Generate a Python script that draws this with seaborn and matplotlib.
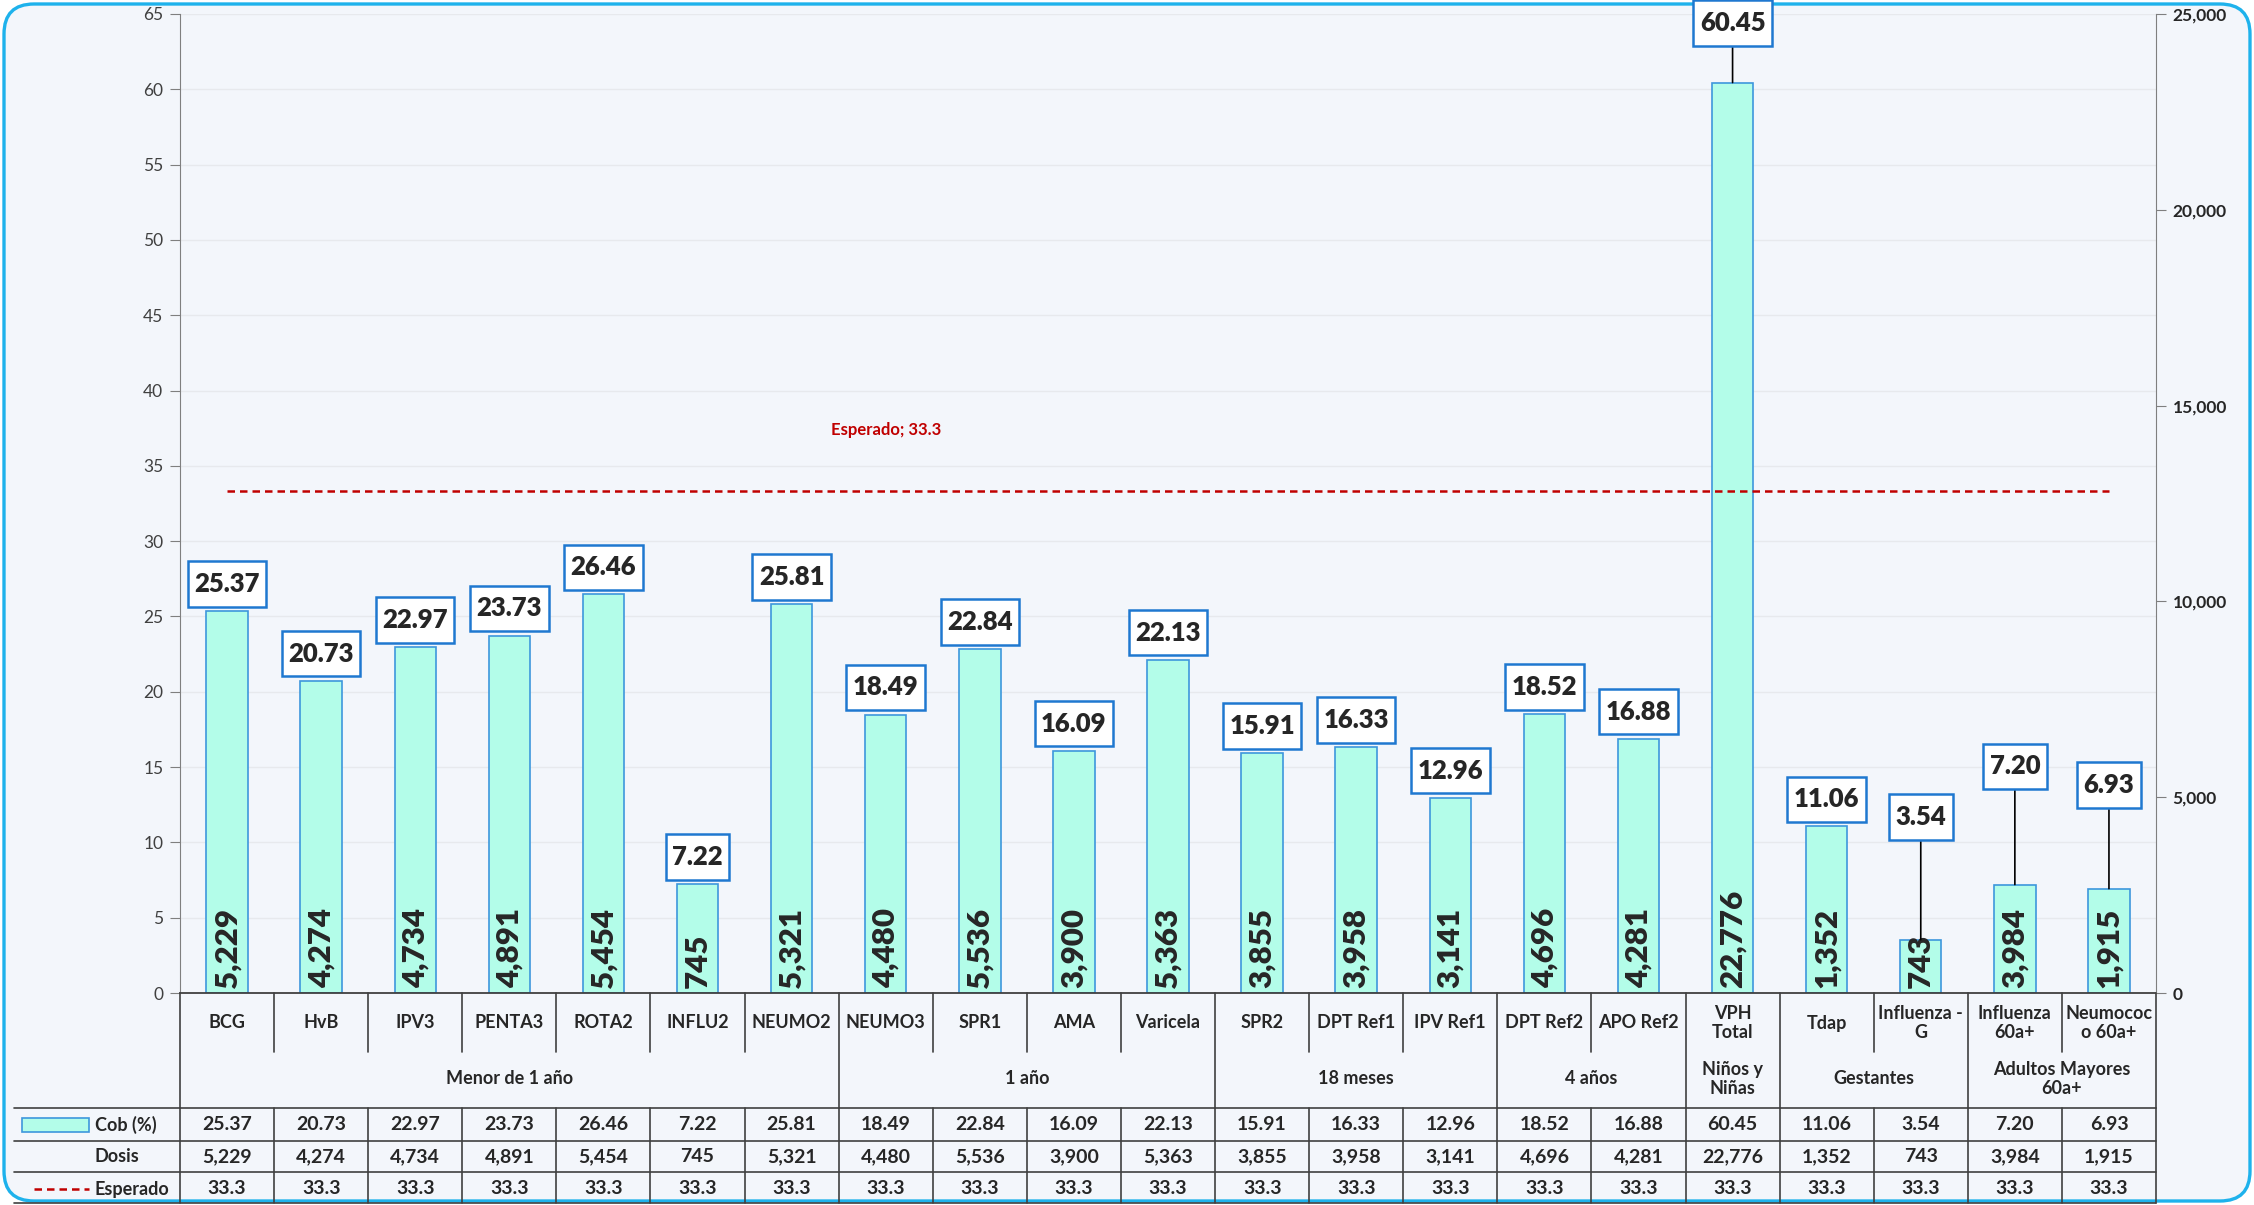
import numpy as np
import pandas as pd
import seaborn as sns
import matplotlib
matplotlib.use("Agg")
import matplotlib.pyplot as plt
from matplotlib.patches import FancyBboxPatch, Rectangle
from matplotlib.path import Path
from matplotlib.ticker import MultipleLocator

vacunas = ["BCG", "HvB", "IPV3", "PENTA3", "ROTA2", "INFLU2", "NEUMO2",
           "NEUMO3", "SPR1", "AMA", "Varicela",
           "SPR2", "DPT Ref1", "IPV Ref1",
           "DPT Ref2", "APO Ref2",
           "VPH\nTotal",
           "Tdap", "Influenza -\nG",
           "Influenza\n60a+", "Neumococ\no 60a+"]
cobertura = [25.37, 20.73, 22.97, 23.73, 26.46, 7.22, 25.81,
             18.49, 22.84, 16.09, 22.13,
             15.91, 16.33, 12.96,
             18.52, 16.88,
             60.45,
             11.06, 3.54,
             7.20, 6.93]
dosis = [5229, 4274, 4734, 4891, 5454, 745, 5321,
         4480, 5536, 3900, 5363,
         3855, 3958, 3141,
         4696, 4281,
         22776,
         1352, 743,
         3984, 1915]
esperado = [33.3] * 21
grupos = ["Menor de 1 año", "1 año", "18 meses", "4 años",
          "Niños y\nNiñas", "Gestantes", "Adultos Mayores\n60a+"]
grupo_n = [7, 4, 3, 2, 1, 2, 2]
dosis_ticks = [0, 5000, 10000, 15000, 20000, 25000]

# labels that Excel moved away from the bar (drawn with a leader line)
moved = {16: 64.4, 18: 11.7, 19: 15.05, 20: 13.8}

BG = "#f3f6fb"
BORDER = "#1eb2ec"
BAR = "#b3fde9"
BAR_EC = "#3d97dc"
BOX_EC = "#1f78d0"
RED = "#c00000"
LINE = "#404040"

sns.set_style("white")
plt.rcParams["font.family"] = ["Lato", "DejaVu Sans"]


def label_box(x0, y0, width, height, mutation_size):
    # square box, a bit taller than wide padding (like Excel data labels)
    px, py = 0.25 * mutation_size, 0.42 * mutation_size
    x0, y0 = x0 - px, y0 - py
    x1, y1 = x0 + width + 2 * px, y0 + height + 2 * py
    return Path([(x0, y0), (x1, y0), (x1, y1), (x0, y1), (x0, y0)], closed=True)


W, H = 2254, 1205
fig = plt.figure(figsize=(W / 100, H / 100), dpi=100, facecolor="white")
fig.add_artist(FancyBboxPatch((0.04, 0.04), W / 100 - 0.08, H / 100 - 0.08,
                              boxstyle="round,pad=0,rounding_size=0.3",
                              transform=fig.dpi_scale_trans, fc=BG, ec=BORDER,
                              lw=2.4, zorder=0))

x0, x1, ytop, ybot = 180, 2156, 14, 993
ax = fig.add_axes([x0 / W, (H - ybot) / H, (x1 - x0) / W, (ybot - ytop) / H])
ax.set_facecolor("none")

df = pd.DataFrame({"vacuna": vacunas, "cob": cobertura})
sns.barplot(data=df, x="vacuna", y="cob", ax=ax, color=BAR, saturation=1,
            edgecolor=BAR_EC, linewidth=1.2, width=0.44, zorder=2)
sns.lineplot(x=np.arange(len(vacunas)), y=esperado, ax=ax, color=RED,
             lw=1.8, linestyle=(0, (3, 2)), zorder=3)

ax.set_xlim(-0.5, len(vacunas) - 0.5)
ax.set_ylim(0, 65)
ax.yaxis.set_major_locator(MultipleLocator(5))
ax.set_xticks([])
ax.set_xlabel("")
ax.set_ylabel("")
ax.grid(axis="y", color="#e7e9ed", lw=1)
ax.set_axisbelow(True)
for s in ["top", "right"]:
    ax.spines[s].set_visible(False)
ax.spines["left"].set_color("#7f7f7f")
ax.spines["bottom"].set_color("#404040")
ax.spines["bottom"].set_linewidth(1.3)
ax.tick_params(axis="y", left=True, direction="out", length=7, color="#7f7f7f",
               labelsize=12.5, labelcolor="#404040", pad=5)

ax2 = ax.twinx()
ax2.set_ylim(0, 25000)
ax2.set_yticks(dosis_ticks)
ax2.set_yticklabels([f"{t:,}" for t in dosis_ticks], fontweight="bold")
for s in ["top", "left", "bottom"]:
    ax2.spines[s].set_visible(False)
ax2.spines["right"].set_color("#7f7f7f")
ax2.tick_params(axis="y", right=True, direction="out", length=7, color="#7f7f7f",
                labelsize=12.5, labelcolor="#262626", pad=5)

ax.text(7, 37.4, "Esperado; 33.3", color=RED, fontsize=12, fontweight="bold",
        ha="center", va="center")

for i, (v, d) in enumerate(zip(cobertura, dosis)):
    kw = {}
    if i in moved:
        kw["arrowprops"] = dict(arrowstyle="-", color="black", lw=1.2,
                                shrinkA=0, shrinkB=0)
    ax.annotate(f"{v:.2f}", xy=(i, v), xytext=(i, moved.get(i, v + 1.8)),
                ha="center", va="center", fontsize=18.5, fontweight="heavy", zorder=6,
                bbox=dict(boxstyle=label_box, fc="white", ec=BOX_EC, lw=1.8),
                **kw)
    ax.text(i, 0.3, f"{d:,}", rotation=90, ha="center", va="bottom",
            fontsize=22.5, fontweight="heavy", zorder=5)

# category / group axis + data table below the plot
tbl = fig.add_axes([x0 / W, 0, (x1 - x0) / W, (H - ybot) / H])
tbl.set_xlim(-0.5, len(vacunas) - 0.5)
tbl.set_ylim(H - ybot, 0)
tbl.axis("off")


def px2x(px):
    return (px - x0) / ((x1 - x0) / len(vacunas)) - 0.5


bounds = np.cumsum([0] + grupo_n)
for k in range(len(vacunas) + 1):
    bottom = 115 if k in bounds else 59
    tbl.plot([k - 0.5, k - 0.5], [0, bottom], color=LINE, lw=1.2, clip_on=False)
    tbl.plot([k - 0.5, k - 0.5], [115, 210], color=LINE, lw=1.2, clip_on=False)
for yy in [115, 148, 179, 210]:
    tbl.plot([px2x(14), len(vacunas) - 0.5], [yy, yy], color=LINE, lw=1.2, clip_on=False)

TFS = 13
VFS = 14
for i, name in enumerate(vacunas):
    tbl.text(i, 30, name, ha="center", va="center", fontsize=TFS, fontweight="bold",
             linespacing=1.15)
for g, a, b in zip(grupos, bounds[:-1], bounds[1:]):
    tbl.text((a + b - 1) / 2, 86, g, ha="center", va="center", fontsize=TFS,
             fontweight="bold", linespacing=1.15)

for i in range(len(vacunas)):
    tbl.text(i, 132, f"{cobertura[i]:.2f}", ha="center", va="center", fontsize=VFS, fontweight="bold")
    tbl.text(i, 164, f"{dosis[i]:,}", ha="center", va="center", fontsize=VFS, fontweight="bold")
    tbl.text(i, 196, f"{esperado[i]}", ha="center", va="center", fontsize=VFS, fontweight="bold")

tbl.add_patch(Rectangle((px2x(22), 125), px2x(89) - px2x(22), 14, fc=BAR, ec=BAR_EC,
                        lw=1.2, clip_on=False))
tbl.text(px2x(95), 132, "Cob (%)", ha="left", va="center", fontsize=TFS, fontweight="bold")
tbl.text(px2x(95), 164, "Dosis", ha="left", va="center", fontsize=TFS, fontweight="bold")
tbl.plot([px2x(34), px2x(89)], [196, 196], color=RED, lw=1.8, linestyle=(0, (3, 2)),
         clip_on=False)
tbl.text(px2x(95), 196, "Esperado", ha="left", va="center", fontsize=TFS, fontweight="bold")

fig.savefig("out.png", dpi=100, facecolor="white")
